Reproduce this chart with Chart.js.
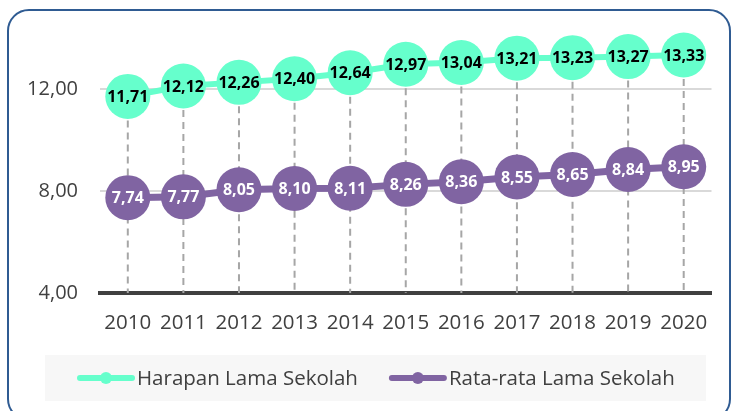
<!DOCTYPE html>
<html>
<head>
<meta charset="utf-8">
<script src="https://cdn.jsdelivr.net/npm/chart.js@4.4.1/dist/chart.umd.min.js"></script>
<style>
  html, body { margin: 0; padding: 0; background: #fff; overflow: hidden; }
  .frame {
    position: absolute; left: 7px; top: 9px; width: 724px; height: 412px;
    border: 2px solid #2f5b92; border-radius: 22px; box-sizing: border-box;
  }
  .wrap { position: absolute; left: 0; top: 0; width: 734px; height: 411px; }
</style>
</head>
<body>
<div class="frame"></div>
<div class="wrap"><canvas id="chart"></canvas></div>
<script>
const years = ['2010', '2011', '2012', '2013', '2014', '2015', '2016', '2017', '2018', '2019', '2020'];
const harapanLama = [11.71, 12.12, 12.26, 12.40, 12.64, 12.97, 13.04, 13.21, 13.23, 13.27, 13.33];
const rataRataLama = [7.74, 7.77, 8.05, 8.10, 8.11, 8.26, 8.36, 8.55, 8.65, 8.84, 8.95];
const yTicks = [4, 8, 12];

const TEAL = '#66ffcc';
const PURPLE = '#8064a2';
const FONT = '"Open Sans", sans-serif';

const fmt = (v) => v.toFixed(2).replace('.', ',');

// grey dashed drop lines from the upper series down to the axis
const dropLines = {
  id: 'dropLines',
  beforeDatasetsDraw(chart) {
    const { ctx, chartArea } = chart;
    const meta = chart.getDatasetMeta(0);
    ctx.save();
    ctx.strokeStyle = '#a6a6a6';
    ctx.lineWidth = 2;
    ctx.setLineDash([7, 5]);
    meta.data.forEach((pt) => {
      ctx.beginPath();
      ctx.moveTo(pt.x, pt.y);
      ctx.lineTo(pt.x, chartArea.bottom);
      ctx.stroke();
    });
    ctx.restore();
  }
};

// values written inside the markers
const pointLabels = {
  id: 'pointLabels',
  afterDatasetsDraw(chart) {
    const { ctx } = chart;
    ctx.save();
    ctx.textAlign = 'center';
    ctx.textBaseline = 'middle';
    ctx.font = 'bold 16px ' + FONT;
    chart.data.datasets.forEach((ds, i) => {
      ctx.fillStyle = i === 0 ? '#000' : '#fff';
      chart.getDatasetMeta(i).data.forEach((pt, j) => {
        ctx.fillText(fmt(ds.data[j]), pt.x, pt.y + 1);
      });
    });
    ctx.restore();
  }
};

// legend in a light grey panel under the axis
const legendPanel = {
  id: 'legendPanel',
  afterDraw(chart) {
    const { ctx } = chart;
    const y = 378;
    ctx.save();
    ctx.globalCompositeOperation = 'destination-over';
    ctx.fillStyle = '#f7f7f7';
    ctx.fillRect(45, 355, 661, 46);
    ctx.restore();

    ctx.save();
    ctx.font = '20.5px ' + FONT;
    ctx.textBaseline = 'middle';
    let x = 77;
    chart.data.datasets.forEach((ds) => {
      ctx.strokeStyle = ds.borderColor;
      ctx.fillStyle = ds.borderColor;
      ctx.lineWidth = 6;
      ctx.lineCap = 'round';
      ctx.beginPath();
      ctx.moveTo(x + 3, y);
      ctx.lineTo(x + 55, y);
      ctx.stroke();
      ctx.beginPath();
      ctx.arc(x + 29, y, 6, 0, Math.PI * 2);
      ctx.fill();
      ctx.fillStyle = '#404040';
      ctx.fillText(ds.label, x + 60, y + 1);
      x += 60 + ctx.measureText(ds.label).width + 31;
    });
    ctx.restore();
  }
};

new Chart(document.getElementById('chart'), {
  type: 'line',
  data: {
    labels: years,
    datasets: [
      {
        label: 'Harapan Lama Sekolah',
        data: harapanLama,
        borderColor: TEAL,
        backgroundColor: TEAL,
        borderWidth: 6,
        pointRadius: 22.5,
        pointHoverRadius: 22.5,
        pointBorderWidth: 0,
        clip: false
      },
      {
        label: 'Rata-rata Lama Sekolah',
        data: rataRataLama,
        borderColor: PURPLE,
        backgroundColor: PURPLE,
        borderWidth: 7,
        pointRadius: 22.5,
        pointHoverRadius: 22.5,
        pointBorderWidth: 0,
        clip: false
      }
    ]
  },
  options: {
    responsive: true,
    maintainAspectRatio: false,
    animation: false,
    layout: { padding: { left: 20, right: 20, top: 38, bottom: 0 } },
    plugins: {
      tooltip: { enabled: false },
      legend: { display: false }
    },
    scales: {
      x: {
        offset: true,
        afterFit(scale) {
          scale.height = 118;
        },
        grid: { display: false, drawTicks: false },
        border: { display: true, color: '#404040', width: 4 },
        ticks: {
          color: '#404040',
          padding: 18,
          font: { family: FONT, size: 20.5 }
        }
      },
      y: {
        min: 4,
        max: 14,
        afterBuildTicks(scale) {
          scale.ticks = yTicks.map((v) => ({ value: v }));
        },
        afterFit(scale) {
          scale.width = 80;
        },
        grid: { color: '#d9d9d9', lineWidth: 2, drawTicks: false },
        border: { display: false },
        ticks: {
          color: '#404040',
          padding: 22,
          font: { family: FONT, size: 20 },
          callback: (v) => fmt(v)
        }
      }
    }
  },
  plugins: [dropLines, pointLabels, legendPanel]
});
</script>
</body>
</html>
